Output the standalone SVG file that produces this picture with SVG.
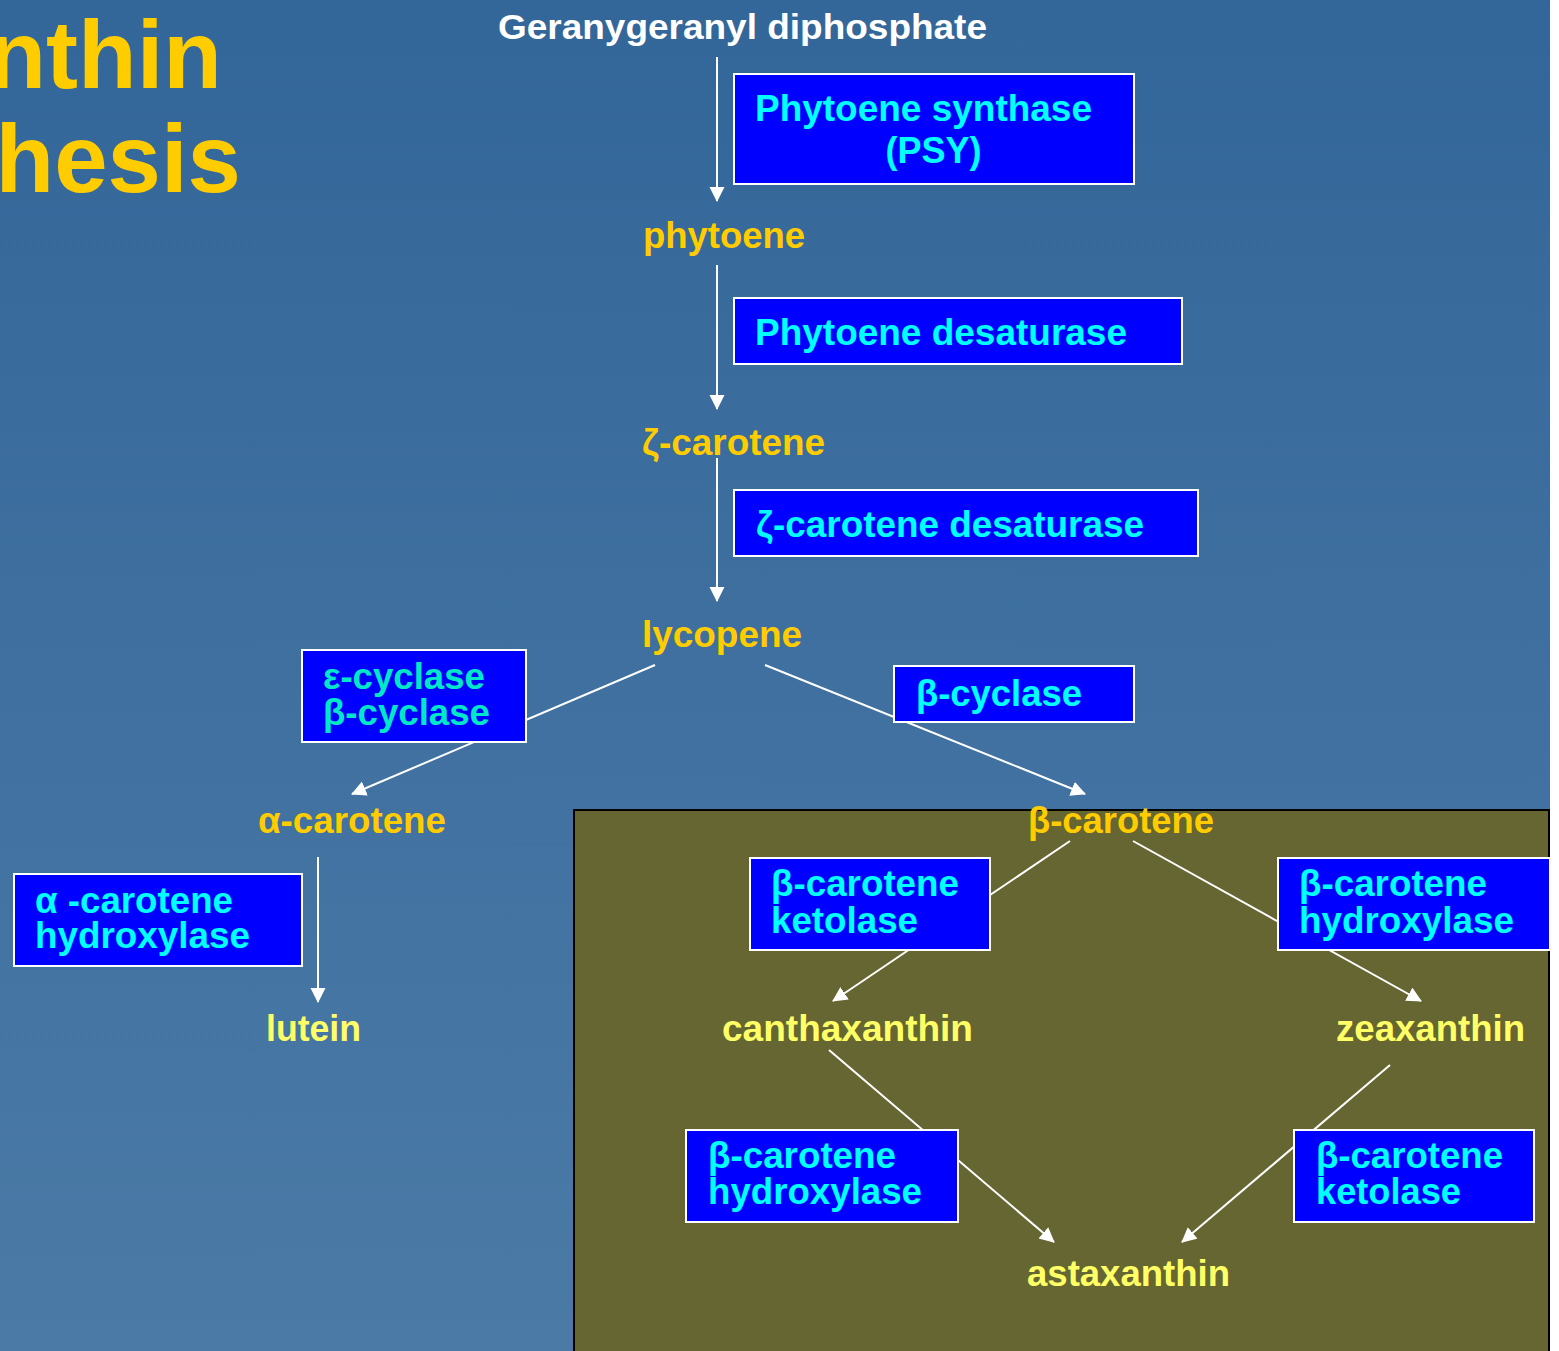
<svg xmlns="http://www.w3.org/2000/svg" width="1559" height="1351" viewBox="0 0 1559 1351">
<defs>
<linearGradient id="bg" x1="0" y1="0" x2="0" y2="1">
<stop offset="0" stop-color="#336699"/>
<stop offset="1" stop-color="#4B7AA6"/>
</linearGradient>
<marker id="ah" markerUnits="userSpaceOnUse" markerWidth="16" markerHeight="16" refX="14" refY="7.5" orient="auto">
<path d="M0,0 L15,7.5 L0,15 z" fill="#FFFFFF"/>
</marker>
<style>
text{font-family:"Liberation Sans",Arial,sans-serif;font-weight:bold;font-size:36px}
.title{fill:#FFCC00;font-size:96px}
.sub{fill:#FFCC00}
.fin{fill:#FFFF66}
.start{fill:#FFFFFF;font-size:35px}
.box{fill:#0000FF;stroke:#FFFFFF;stroke-width:2}
.enz{fill:#00FFFF}
.enz2{fill:#00E8C8}
.conn line{stroke:#FFFFFF;stroke-width:2;marker-end:url(#ah)}
.conn line.plain{marker-end:none}
</style>
</defs>
<rect x="0" y="0" width="1559" height="1351" fill="url(#bg)"/>
<rect x="1550" y="0" width="9" height="1351" fill="#FFFFFF"/>
<text class="title" x="222" y="88" text-anchor="end">nthin</text>
<text class="title" x="241" y="192" text-anchor="end">hesis</text>
<rect id="panel" x="574" y="810" width="975" height="560" fill="#666633" stroke="#000000" stroke-width="2"/>

<g class="conn" id="connectors">
<line x1="717" y1="57" x2="717" y2="201"/>
<line x1="717" y1="265" x2="717" y2="409"/>
<line x1="717" y1="458" x2="717" y2="601"/>
<line x1="655" y1="665" x2="352" y2="794"/>
<line x1="765" y1="665" x2="1085" y2="794"/>
<line x1="318" y1="857" x2="318" y2="1002"/>
<line x1="1070" y1="841" x2="833" y2="1001"/>
<line x1="1133" y1="841" x2="1421" y2="1001"/>
<line x1="829" y1="1050" x2="1054" y2="1242"/>
<line x1="1390" y1="1065" x2="1182" y2="1242"/>
</g>

<g id="ggpp"><text class="start" x="498" y="39" textLength="489" lengthAdjust="spacingAndGlyphs">Geranygeranyl diphosphate</text></g>
<g id="psy"><rect class="box" x="734" y="74" width="400" height="110"/>
<text class="enz" x="755" y="121" textLength="337" lengthAdjust="spacingAndGlyphs">Phytoene synthase</text>
<text class="enz" x="933.5" y="163" text-anchor="middle">(PSY)</text></g>
<g id="phytoene"><text class="sub" x="643" y="248" textLength="162" lengthAdjust="spacingAndGlyphs">phytoene</text></g>
<g id="pds"><rect class="box" x="734" y="298" width="448" height="66"/>
<text class="enz" x="755" y="345" textLength="372" lengthAdjust="spacingAndGlyphs">Phytoene desaturase</text></g>
<g id="zcarotene"><text class="sub" x="642" y="455" textLength="183" lengthAdjust="spacingAndGlyphs">ζ-carotene</text></g>
<g id="zds"><rect class="box" x="734" y="490" width="464" height="66"/>
<text class="enz" x="756" y="537" textLength="388" lengthAdjust="spacingAndGlyphs">ζ-carotene desaturase</text></g>
<g id="lycopene"><text class="sub" x="642" y="647" textLength="160" lengthAdjust="spacingAndGlyphs">lycopene</text></g>
<g id="ecyc"><rect class="box" x="302" y="650" width="224" height="92"/>
<text class="enz2" x="323" y="689" textLength="162" lengthAdjust="spacingAndGlyphs">ε-cyclase</text>
<text class="enz2" x="323" y="725" textLength="167" lengthAdjust="spacingAndGlyphs">β-cyclase</text></g>
<g id="bcyc"><rect class="box" x="894" y="666" width="240" height="56"/>
<text class="enz" x="916" y="706" textLength="166" lengthAdjust="spacingAndGlyphs">β-cyclase</text></g>
<g id="acarotene"><text class="sub" x="258" y="833" textLength="188" lengthAdjust="spacingAndGlyphs">α-carotene</text></g>
<g id="bcarotene"><text class="sub" x="1028" y="833" textLength="186" lengthAdjust="spacingAndGlyphs">β-carotene</text></g>
<g id="ahyd"><rect class="box" x="14" y="874" width="288" height="92"/>
<text class="enz" x="35" y="913" textLength="198" lengthAdjust="spacingAndGlyphs">α -carotene</text>
<text class="enz" x="35" y="948" textLength="215" lengthAdjust="spacingAndGlyphs">hydroxylase</text></g>
<g id="bket1"><rect class="box" x="750" y="858" width="240" height="92"/>
<text class="enz" x="771" y="896" textLength="188" lengthAdjust="spacingAndGlyphs">β-carotene</text>
<text class="enz" x="771" y="933" textLength="147" lengthAdjust="spacingAndGlyphs">ketolase</text></g>
<g id="bhyd1"><rect class="box" x="1278" y="858" width="272" height="92"/>
<text class="enz" x="1299" y="896" textLength="188" lengthAdjust="spacingAndGlyphs">β-carotene</text>
<text class="enz" x="1299" y="933" textLength="215" lengthAdjust="spacingAndGlyphs">hydroxylase</text></g>
<g id="lutein"><text class="fin" x="266" y="1041" textLength="95" lengthAdjust="spacingAndGlyphs">lutein</text></g>
<g id="canthaxanthin"><text class="fin" x="722" y="1041" textLength="251" lengthAdjust="spacingAndGlyphs">canthaxanthin</text></g>
<g id="zeaxanthin"><text class="fin" x="1336" y="1041" textLength="189" lengthAdjust="spacingAndGlyphs">zeaxanthin</text></g>
<g id="bhyd2"><rect class="box" x="686" y="1130" width="272" height="92"/>
<text class="enz" x="708" y="1168" textLength="188" lengthAdjust="spacingAndGlyphs">β-carotene</text>
<text class="enz" x="708" y="1204" textLength="214" lengthAdjust="spacingAndGlyphs">hydroxylase</text></g>
<g id="bket2"><rect class="box" x="1294" y="1130" width="240" height="92"/>
<text class="enz" x="1316" y="1168" textLength="187" lengthAdjust="spacingAndGlyphs">β-carotene</text>
<text class="enz" x="1316" y="1204" textLength="145" lengthAdjust="spacingAndGlyphs">ketolase</text></g>
<g id="astaxanthin"><text class="fin" x="1027" y="1286" textLength="203" lengthAdjust="spacingAndGlyphs">astaxanthin</text></g>
</svg>
